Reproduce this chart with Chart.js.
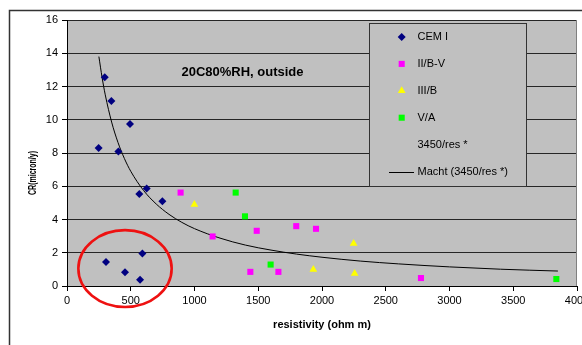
<!DOCTYPE html>
<html><head><meta charset="utf-8">
<script src="https://cdn.jsdelivr.net/npm/chart.js@4/dist/chart.umd.min.js"></script>
<style>html,body{margin:0;padding:0;background:#fff;}#c{display:block;}</style>
</head><body>
<canvas id="c" width="582" height="345"></canvas>
<script>
// ---- data ----
const cemX = [296, 348, 494, 248, 403, 567, 625, 748, 306, 455, 573, 591];
const cemY = [12.56, 11.13, 9.75, 8.3, 8.09, 5.54, 5.86, 5.1, 1.45, 0.83, 0.38, 1.95];
const ibvX = [891, 1142, 1488, 1798, 1953, 1438, 1658, 2776];
const ibvY = [5.62, 2.98, 3.32, 3.6, 3.44, 0.85, 0.85, 0.48];
const iiibX = [999, 1932, 2256, 2248];
const iiibY = [4.9, 1.0, 0.75, 2.56];
const vaX = [1323, 1396, 1597, 3838];
const vaY = [5.62, 4.19, 1.29, 0.42];
const curveX = [250, 275, 300, 350, 400, 450, 500, 600, 700, 800, 900, 1000, 1200, 1400, 1600, 1800, 2000, 2300, 2600, 3000, 3400, 3850];
const curveY = [13.8, 12.55, 11.5, 9.86, 8.63, 7.67, 6.9, 5.75, 4.93, 4.31, 3.83, 3.45, 2.88, 2.46, 2.16, 1.92, 1.73, 1.5, 1.33, 1.15, 1.01, 0.9];
const seriesNames = ['CEM I', 'II/B-V', 'III/B', 'V/A', '3450/res *', 'Macht (3450/res *)'];
const xTicks = [0, 500, 1000, 1500, 2000, 2500, 3000, 3500, 4000];
const yTicks = [0, 2, 4, 6, 8, 10, 12, 14, 16];
const chartTitle = '20C80%RH, outside';
const xTitle = 'resistivity (ohm m)';
const yTitle = 'CR(micron/y)';
// highlight ellipse (data units)
const ellipse = {cx: 455, cy: 1.05, rx: 366, ry: 2.31};

const pts = (xs, ys) => xs.map((x, i) => ({x: x, y: ys[i]}));
const FONT = "'Liberation Sans', Arial, sans-serif";

const datasets = [
  {label: seriesNames[0], data: pts(cemX, cemY), pointStyle: 'rectRot', pointRadius: 4, backgroundColor: '#000080', borderWidth: 0, showLine: false},
  {label: seriesNames[1], data: pts(ibvX, ibvY), pointStyle: 'rect', pointRadius: 4.3, backgroundColor: '#FF00FF', borderWidth: 0, showLine: false},
  {label: seriesNames[2], data: pts(iiibX, iiibY), pointStyle: 'triangle', pointRadius: 4.5, backgroundColor: '#FFFF00', borderWidth: 0, showLine: false},
  {label: seriesNames[3], data: pts(vaX, vaY), pointStyle: 'rect', pointRadius: 4.3, backgroundColor: '#00FF00', borderWidth: 0, showLine: false},
  {label: seriesNames[4], data: pts(curveX, curveY), pointRadius: 0, showLine: false, borderWidth: 0, backgroundColor: 'rgba(0,0,0,0)'},
  {label: seriesNames[5], data: pts(curveX, curveY), pointRadius: 0, showLine: true, borderColor: '#000', borderWidth: 1, cubicInterpolationMode: 'monotone', fill: false}
];

const deco = {
  id: 'deco',
  beforeDraw(chart) {
    const ctx = chart.ctx, a = chart.chartArea;
    ctx.save();
    ctx.fillStyle = '#fff';
    ctx.fillRect(0, 0, chart.width, chart.height);
    ctx.strokeStyle = '#333';
    ctx.lineWidth = 1.5;
    ctx.beginPath();
    ctx.moveTo(9.5, chart.height + 5);
    ctx.lineTo(9.5, 10.5);
    ctx.lineTo(chart.width + 5, 10.5);
    ctx.stroke();
    ctx.fillStyle = '#C0C0C0';
    ctx.fillRect(a.left, a.top, a.right - a.left, a.bottom - a.top);
    ctx.restore();
  },
  afterDraw(chart) {
    const ctx = chart.ctx, a = chart.chartArea;
    const xs = chart.scales.x, ys = chart.scales.y;
    ctx.save();
    // plot right border
    ctx.strokeStyle = '#808080';
    ctx.lineWidth = 1;
    ctx.beginPath();
    ctx.moveTo(Math.round(a.right) - 0.5, a.top);
    ctx.lineTo(Math.round(a.right) - 0.5, a.bottom);
    ctx.stroke();

    // legend
    const lx = 369.5, ly = 23.5, lw = 157, lh = 163;
    ctx.fillStyle = '#C0C0C0';
    ctx.fillRect(lx, ly, lw, lh);
    ctx.strokeStyle = '#333';
    ctx.strokeRect(lx, ly, lw, lh);
    ctx.font = '11px ' + FONT;
    ctx.textBaseline = 'middle';
    ctx.textAlign = 'left';
    chart.data.datasets.forEach((ds, i) => {
      const y = 37 + i * 26.9;
      const mx = 401.7;
      if (i < 4) {
        ctx.fillStyle = ds.backgroundColor;
        Chart.helpers.drawPoint(ctx, {pointStyle: ds.pointStyle, radius: ds.pointRadius, rotation: 0, borderWidth: 0}, mx, y);
      } else if (i === 5) {
        ctx.strokeStyle = '#000';
        ctx.lineWidth = 1;
        ctx.beginPath();
        ctx.moveTo(389, Math.round(y) + 0.5);
        ctx.lineTo(414, Math.round(y) + 0.5);
        ctx.stroke();
      }
      ctx.fillStyle = '#000';
      ctx.fillText(ds.label, 417.5, y);
    });

    // chart title
    ctx.font = 'bold 13px ' + FONT;
    ctx.textAlign = 'center';
    ctx.fillStyle = '#000';
    ctx.fillText(chartTitle, 242.5, 72);

    // x title
    ctx.font = 'bold 11px ' + FONT;
    ctx.fillText(xTitle, (a.left + a.right) / 2, 325);

    // y title (compressed)
    ctx.save();
    ctx.translate(33, 173);
    ctx.rotate(-Math.PI / 2);
    ctx.scale(0.7, 1);
    ctx.font = 'bold 10px ' + FONT;
    ctx.fillText(yTitle, 0, 0);
    ctx.restore();

    // red ellipse
    const cx = xs.getPixelForValue(ellipse.cx), cy = ys.getPixelForValue(ellipse.cy);
    const rx = Math.abs(xs.getPixelForValue(ellipse.cx + ellipse.rx) - cx);
    const ry = Math.abs(ys.getPixelForValue(ellipse.cy + ellipse.ry) - cy);
    ctx.strokeStyle = '#EE1111';
    ctx.lineWidth = 2.6;
    ctx.beginPath();
    ctx.ellipse(cx, cy, rx, ry, 0, 0, Math.PI * 2);
    ctx.stroke();
    ctx.restore();
  }
};

new Chart(document.getElementById('c'), {
  type: 'scatter',
  data: {datasets: datasets},
  options: {
    responsive: false,
    animation: false,
    devicePixelRatio: 1,
    layout: {padding: {left: 0, top: 20, right: 5, bottom: 0}},
    plugins: {legend: {display: false}, tooltip: {enabled: false}, title: {display: false}},
    scales: {
      x: {
        type: 'linear', min: 0, max: 4000,
        afterBuildTicks: s => { s.ticks = xTicks.map(v => ({value: v})); },
        afterFit: s => { s.height = 59; s.paddingLeft = 0; s.paddingRight = 0; },
        ticks: {color: '#000', font: {family: FONT, size: 11}, padding: 3, maxRotation: 0, autoSkip: false, callback: v => String(v)},
        grid: {drawOnChartArea: false, drawTicks: true, tickLength: 5, tickColor: '#000'},
        border: {color: '#000', width: 1}
      },
      y: {
        type: 'linear', min: 0, max: 16,
        afterBuildTicks: s => { s.ticks = yTicks.map(v => ({value: v})); },
        afterFit: s => { s.width = 67; s.paddingTop = 0; s.paddingBottom = 0; },
        ticks: {color: '#000', font: {family: FONT, size: 11}, padding: 4, callback: v => String(v)},
        grid: {color: '#262626', lineWidth: 1, drawTicks: true, tickLength: 5, tickColor: '#000'},
        border: {color: '#000', width: 1}
      }
    }
  },
  plugins: [deco]
});
</script>
</body></html>
